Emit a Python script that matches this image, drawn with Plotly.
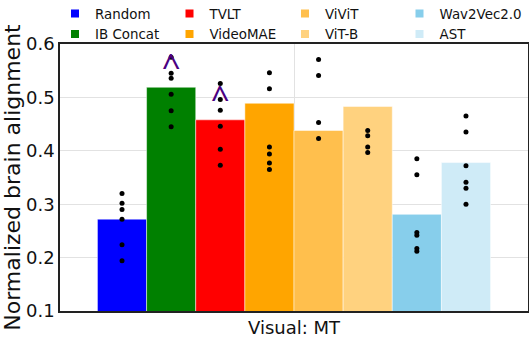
import plotly.graph_objects as go

category = "Visual: MT"
models = ["Random", "IB Concat", "TVLT", "VideoMAE", "ViViT", "ViT-B", "Wav2Vec2.0", "AST"]
colors = ["#0000FF", "#008000", "#FF0000", "#FFA500", "#FFBF4D", "#FFD27F", "#87CEEB", "#CFEBF7"]
# legend column for each model (legend shows 4 columns x 2 rows)
legend_ids = ["legend", "legend", "legend2", "legend2", "legend3", "legend3", "legend4", "legend4"]

bar_values = [0.272, 0.519, 0.458, 0.489, 0.438, 0.483, 0.281, 0.378]

random_pts = [0.320, 0.302, 0.290, 0.272, 0.224, 0.194]
ib_concat_pts = [0.575, 0.545, 0.536, 0.506, 0.475, 0.445]
tvlt_pts = [0.526, 0.496, 0.476, 0.446, 0.403, 0.373]
videomae_pts = [0.546, 0.516, 0.407, 0.394, 0.377, 0.365]
vivit_pts = [0.571, 0.541, 0.453, 0.423]
vitb_pts = [0.438, 0.428, 0.407, 0.397]
wav2vec_pts = [0.385, 0.355, 0.247, 0.242, 0.217, 0.212]
ast_pts = [0.465, 0.435, 0.372, 0.341, 0.330, 0.300]
subject_points = [random_pts, ib_concat_pts, tvlt_pts, videomae_pts,
                  vivit_pts, vitb_pts, wav2vec_pts, ast_pts]

caret_models = ["IB Concat", "TVLT"]
caret_values = [0.551, 0.491]

FONT = "DejaVu Sans"
fig = go.Figure()

for name, val, col in zip(models, bar_values, colors):
    fig.add_trace(go.Bar(
        x=[category], y=[val], name=name, offsetgroup=name, alignmentgroup="a",
        marker=dict(color=col, line=dict(color="rgba(255,255,255,0.6)", width=0.8)),
        showlegend=False, hoverinfo="skip",
    ))

for name, pts in zip(models, subject_points):
    fig.add_trace(go.Scatter(
        x=[category] * len(pts), y=pts, mode="markers", offsetgroup=name, alignmentgroup="a",
        marker=dict(color="black", size=5), showlegend=False, hoverinfo="skip",
    ))

for name, val in zip(caret_models, caret_values):
    fig.add_trace(go.Scatter(
        x=[category], y=[val], mode="text", text=["^"], offsetgroup=name, alignmentgroup="a",
        textfont=dict(family="Noto Sans", size=33, color="#4B0082"),
        textposition="middle center", showlegend=False, hoverinfo="skip",
    ))

for name, col, lid in zip(models, colors, legend_ids):
    fig.add_trace(go.Scatter(
        x=[None], y=[None], mode="markers", name=name, offsetgroup=name, alignmentgroup="a",
        marker=dict(color=col, size=8, symbol="square"), legend=lid,
    ))

legend_common = dict(orientation="v", xanchor="left", y=1.171, yanchor="top",
                     font=dict(size=13.4), bgcolor="rgba(0,0,0,0)", tracegroupgap=0,
                     borderwidth=0)
plot_w = 468.0
col_px = [55.0, 169.5, 285.0, 399.5]

fig.update_layout(
    width=529, height=364,
    margin=dict(l=60, r=1, t=44, b=53, autoexpand=False),
    paper_bgcolor="white", plot_bgcolor="white",
    barmode="group", bargap=0.16, bargroupgap=0,
    scattermode="group", scattergap=0.16,
    font=dict(family=FONT, color="#111"),
    legend=dict(x=(col_px[0] - 60) / plot_w, **legend_common),
    legend2=dict(x=(col_px[1] - 60) / plot_w, **legend_common),
    legend3=dict(x=(col_px[2] - 60) / plot_w, **legend_common),
    legend4=dict(x=(col_px[3] - 60) / plot_w, **legend_common),
    yaxis=dict(range=[0.1, 0.6], dtick=0.1, tickformat=".1f",
               tickfont=dict(size=18), showgrid=True, gridcolor="#E2E2E2",
               showline=True, linecolor="#222", linewidth=1.5, mirror=True, ticks="",
               title=dict(text="Normalized brain alignment", font=dict(size=22), standoff=2),
               zeroline=False),
    xaxis=dict(tickfont=dict(size=18), showgrid=True, gridcolor="#E2E2E2",
               showline=True, linecolor="#222", linewidth=1.5, mirror=True, ticks=""),
)

fig.write_html("out.html", config={"displayModeBar": False},
               post_script="document.body.style.margin='0';document.body.style.overflow='hidden';")
